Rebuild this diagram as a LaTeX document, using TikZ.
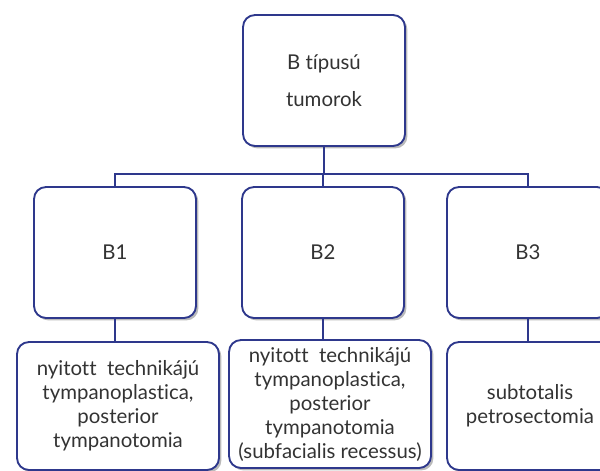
\documentclass[tikz,border=0pt]{standalone}
\usepackage{fontspec}
\setmainfont{Lato}[Ligatures=NoCommon]
\usepackage{tikz}
\usetikzlibrary{shadows}
\usepackage{xcolor}
\definecolor{boxblue}{RGB}{46,56,140}

\begin{document}
\begin{tikzpicture}[x=0.75pt,y=0.75pt,yscale=-1,xscale=1,
    tbox/.style={draw=boxblue, line width=1.4pt, rounded corners=9pt, fill=white,
        drop shadow={shadow xshift=1.8pt, shadow yshift=-1.8pt, fill=black!45, opacity=0.6},
        align=center, font=\fontsize{15.3}{18}\selectfont, text=black!80},
    link/.style={draw=boxblue, line width=1.4pt}]
    \useasboundingbox (0,0) rectangle (600,471);
    \clip (0,0) rectangle (600,471);

    % Root box
    \node [tbox, minimum width=121.5pt, minimum height=98.25pt, font=\fontsize{15.3}{27.5}\selectfont] (root) at (324,80.5) {B típusú\\[0pt]tumorok};

    % Type boxes
    \node [tbox, minimum width=121.5pt, minimum height=98.25pt] (bA) at (115,252.5) {B1};
    \node [tbox, minimum width=121.5pt, minimum height=98.25pt] (bB) at (323,252.5) {B2};
    \node [tbox, minimum width=121.5pt, minimum height=98.25pt] (bC) at (528,252.5) {B3};

    % Treatment boxes
    \node [tbox, minimum width=151.5pt, minimum height=96pt] (tA) at (118,406)
        {nyitott\ \ technikájú\\tympanoplastica,\\posterior\\tympanotomia};
    \node [tbox, minimum width=151.5pt, minimum height=96pt] (tB) at (330,404)
        {nyitott\ \ technikájú\\tympanoplastica,\\posterior\\tympanotomia\\(subfacialis recessus)};
    \node [tbox, minimum width=151.5pt, minimum height=96pt] (tC) at (548,406)
        {};
    \node [align=center, font=\fontsize{15.3}{18}\selectfont, text=black!80] (tCtext) at (530,406)
        {subtotalis\\petrosectomia};

    % Connectors
    \coordinate (hub) at (323,174);
    \draw [link] (root.south) -- (root.south |- hub);
    \draw [link] (bA.north) |- (hub) -| (bC.north);
    \draw [link] (hub) -- (bB.north);
    \draw [link] (bA.south) -- (bA.south |- tA.north);
    \draw [link] (bB.south) -- (bB.south |- tB.north);
    \draw [link] (bC.south) -- (bC.south |- tC.north);
\end{tikzpicture}
\end{document}
